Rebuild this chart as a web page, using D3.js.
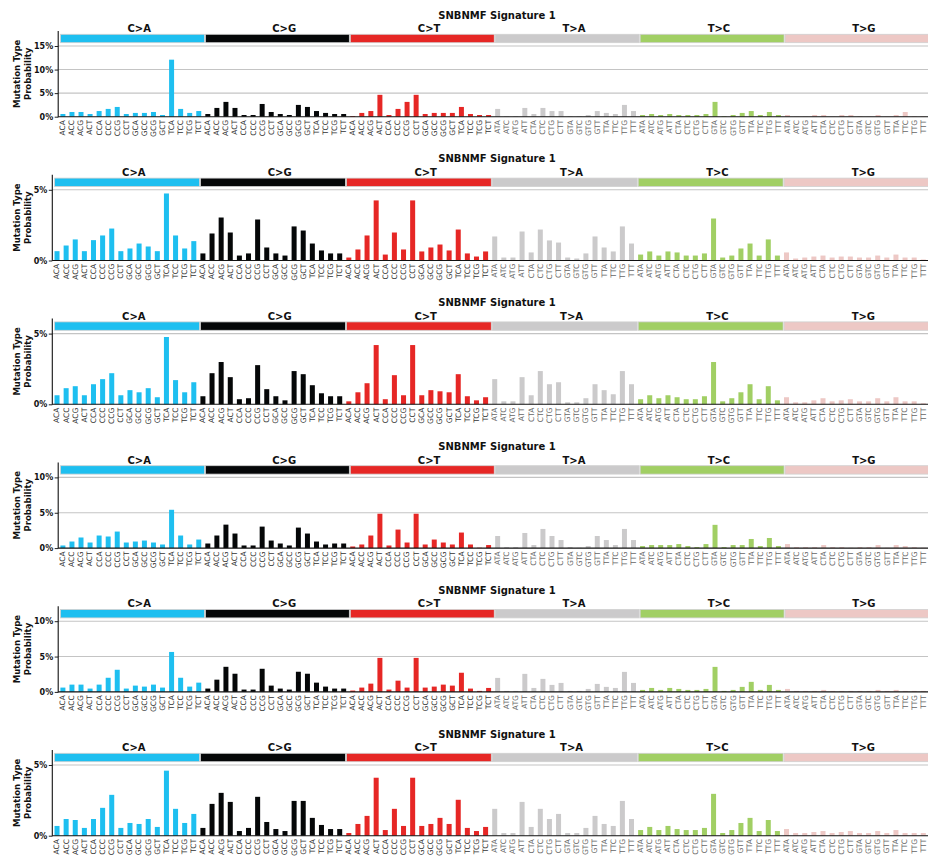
<!DOCTYPE html>
<html>
<head>
<meta charset="utf-8">
<script src="https://cdn.jsdelivr.net/npm/d3@7"></script>
<style>
  body { margin: 0; background: #fff; }
  svg { display: block; }
</style>
</head>
<body>
<script>
// SBS-96 mutation classes and trinucleotide contexts
const mutationTypes = ["C>A", "C>G", "C>T", "T>A", "T>C", "T>G"];
const typeColors = ["#1ebff0", "#050708", "#e62725", "#cbcacb", "#a1cf64", "#edc8c5"];
const cContexts = ["ACA","ACC","ACG","ACT","CCA","CCC","CCG","CCT","GCA","GCC","GCG","GCT","TCA","TCC","TCG","TCT"];
const tContexts = ["ATA","ATC","ATG","ATT","CTA","CTC","CTG","CTT","GTA","GTC","GTG","GTT","TTA","TTC","TTG","TTT"];
const chartTitle = "SNBNMF Signature 1";

// Probabilities (%) per panel, 96 values in class order C>A, C>G, C>T, T>A, T>C, T>G
const run1 = [
  0.57,1.0,1.0,0.57,1.2,1.65,2.07,0.57,0.8,0.8,1.0,0.36,12.1,1.65,0.8,1.2,
  0.57,1.86,3.14,1.86,0.36,0.36,2.7,1.0,0.57,0.36,2.5,2.07,1.2,0.8,0.57,0.57,
  0.14,0.8,1.2,4.64,0.36,1.65,3.14,4.64,0.57,0.8,0.8,0.8,2.07,0.57,0.36,0.36,
  1.65,0.1,0.1,1.86,0.57,1.86,1.2,1.2,0.1,0.1,0.36,1.2,0.8,0.57,2.5,1.2,
  0.36,0.57,0.36,0.57,0.36,0.36,0.36,0.57,3.14,0.1,0.36,0.8,1.2,0.36,1.0,0.36,
  0.36,0.05,0.05,0.36,0.36,0.05,0.36,0.36,0.1,0.05,0.36,0.05,0.36,1.0,0.1,0.1
];
const run2 = [
  0.66,1.06,1.49,0.66,1.44,1.77,2.26,0.66,0.85,1.2,0.99,0.66,4.74,1.77,0.85,1.37,
  0.5,1.91,3.04,1.98,0.35,0.5,2.9,0.92,0.5,0.35,2.41,2.12,1.2,0.71,0.5,0.5,
  0.21,0.78,1.77,4.25,0.42,1.98,0.78,4.25,0.64,0.92,1.13,0.71,2.19,0.5,0.28,0.64,
  1.7,0.21,0.21,2.05,0.57,2.19,1.42,1.27,0.21,0.14,0.5,1.7,0.92,0.64,2.41,1.2,
  0.42,0.64,0.35,0.64,0.57,0.35,0.35,0.5,2.97,0.21,0.35,0.85,1.2,0.35,1.49,0.35,
  0.57,0.14,0.21,0.28,0.35,0.21,0.28,0.28,0.21,0.21,0.35,0.21,0.42,0.21,0.21,0.07
];
const run3 = [
  0.64,1.14,1.28,0.64,1.42,1.78,2.2,0.64,1.0,0.85,1.14,0.5,4.76,1.71,0.85,1.56,
  0.57,2.2,2.99,1.92,0.36,0.43,2.77,1.07,0.57,0.28,2.35,2.13,1.35,0.78,0.57,0.57,
  0.21,0.85,1.49,4.19,0.36,2.06,0.64,4.19,0.64,1.0,0.92,0.85,2.13,0.57,0.28,0.5,
  1.78,0.21,0.21,1.92,0.64,2.35,1.42,1.56,0.14,0.14,0.43,1.42,1.0,0.71,2.35,1.42,
  0.36,0.64,0.43,0.64,0.5,0.36,0.36,0.57,2.99,0.21,0.43,0.85,1.42,0.36,1.28,0.28,
  0.5,0.14,0.14,0.28,0.43,0.21,0.28,0.36,0.21,0.21,0.43,0.21,0.5,0.21,0.21,0.07
];
const run4 = [
  0.37,0.93,1.5,0.79,1.78,1.64,2.34,0.79,0.93,1.07,0.79,0.51,5.42,1.78,0.51,1.21,
  0.65,1.78,3.32,2.06,0.37,0.37,3.04,1.07,0.65,0.37,2.9,2.06,0.93,0.51,0.65,0.65,
  0.23,0.51,1.78,4.86,0.37,2.62,0.79,4.86,0.51,1.21,0.79,0.51,2.2,0.51,0.05,0.43,
  1.71,0.14,0.14,2.14,0.43,2.71,1.71,1.14,0.14,0.05,0.29,1.71,1.14,0.43,2.71,1.14,
  0.29,0.43,0.43,0.43,0.57,0.29,0.14,0.57,3.29,0.14,0.43,0.43,1.29,0.29,1.43,0.29,
  0.57,0.14,0.14,0.14,0.43,0.14,0.14,0.05,0.14,0.14,0.43,0.05,0.43,0.29,0.14,0.05
];
const run5 = [
  0.61,1.03,1.03,0.47,1.03,2.0,3.13,0.47,0.89,0.75,1.03,0.61,5.65,2.0,0.75,1.31,
  0.47,1.73,3.55,2.57,0.33,0.33,3.27,0.89,0.47,0.33,2.85,2.57,1.31,0.75,0.47,0.47,
  0.19,0.61,1.17,4.81,0.33,1.59,0.61,4.81,0.61,0.75,1.03,0.89,2.71,0.47,0.14,0.56,
  1.98,0.14,0.14,2.55,0.56,1.84,0.99,1.27,0.14,0.14,0.42,1.13,0.71,0.56,2.83,1.27,
  0.28,0.56,0.28,0.56,0.42,0.28,0.28,0.42,3.54,0.14,0.28,0.71,1.42,0.28,0.99,0.28,
  0.42,0.14,0.14,0.14,0.28,0.14,0.14,0.14,0.14,0.14,0.28,0.14,0.28,0.14,0.14,0.14
];
const run6 = [
  0.69,1.18,1.11,0.55,1.18,1.97,2.89,0.55,0.9,0.83,1.18,0.62,4.6,1.9,0.9,1.54,
  0.55,2.25,3.03,2.39,0.33,0.55,2.75,0.97,0.47,0.33,2.46,2.46,1.26,0.76,0.47,0.47,
  0.19,0.83,1.4,4.1,0.4,1.9,0.69,4.1,0.69,0.83,1.26,0.83,2.54,0.55,0.33,0.62,
  1.9,0.19,0.19,2.39,0.62,1.9,1.18,1.54,0.19,0.19,0.55,1.4,0.83,0.69,2.46,1.18,
  0.4,0.62,0.4,0.69,0.47,0.4,0.4,0.55,2.96,0.19,0.4,0.9,1.26,0.33,1.11,0.33,
  0.47,0.19,0.19,0.26,0.33,0.19,0.26,0.33,0.19,0.19,0.33,0.19,0.4,0.19,0.19,0.19
];

// y-axis ticks (%) for each panel; the last tick is the top of the scale
const ticks1 = [0, 5, 10, 15];
const ticks2 = [0, 5];
const ticks3 = [0, 5];
const ticks4 = [0, 5, 10];
const ticks5 = [0, 5, 10];
const ticks6 = [0, 5];

const panels = [
  { values: run1, ticks: ticks1 },
  { values: run2, ticks: ticks2 },
  { values: run3, ticks: ticks3 },
  { values: run4, ticks: ticks4 },
  { values: run5, ticks: ticks5 },
  { values: run6, ticks: ticks6 }
];

// Full list of 96 channels
const channels = [];
mutationTypes.forEach((t, ti) => {
  const ctx = t[0] === "C" ? cContexts : tContexts;
  ctx.forEach(c => channels.push({ type: t, typeIndex: ti, context: c }));
});

const W = 928, H = 858;
const svg = d3.select("body").append("svg").attr("width", W).attr("height", H)
  .style("font-family", "'DejaVu Sans', sans-serif");

const panelStep = 143.8;
const firstBase = 116.7;
const tickSpan = 70.7;    // pixel height from 0 to the top tick
const axisTop = 85.7;     // spine height above the baseline
const xEnd = 929.5;
const titleX = 497;

panels.forEach((p, k) => {
  const base = firstBase + panelStep * k;
  const yMax = p.ticks[p.ticks.length - 1];
  const wide = yMax >= 10;
  const spineX = wide ? 58.2 : 52.3;
  const x0 = spineX + 1.8;

  const g = svg.append("g");

  const x = d3.scaleBand().domain(d3.range(96)).range([x0, xEnd]).paddingInner(0).paddingOuter(0);
  const bw = x.bandwidth();
  const y = d3.scaleLinear().domain([0, yMax]).range([base, base - tickSpan]);

  // gridlines
  g.append("g").selectAll("line").data(p.ticks.filter(t => t > 0)).join("line")
    .attr("x1", spineX).attr("x2", W)
    .attr("y1", d => y(d)).attr("y2", d => y(d))
    .attr("stroke", "#c4c4c4").attr("stroke-width", 1.1);

  // class header strip
  const strip = g.append("g");
  mutationTypes.forEach((t, ti) => {
    const sx = x(ti * 16);
    strip.append("rect")
      .attr("x", sx + 0.5).attr("y", base - 82.4)
      .attr("width", 16 * bw - 1).attr("height", 8.4)
      .attr("fill", typeColors[ti])
      .attr("stroke", "#d0d0d0").attr("stroke-width", 0.8);
    strip.append("text")
      .attr("x", sx + 8 * bw + 6.8).attr("y", base - 84.6)
      .attr("text-anchor", "middle")
      .attr("font-weight", "bold").attr("font-size", 10)
      .attr("fill", "#111")
      .text(t);
  });

  // bars
  g.append("g").selectAll("rect").data(p.values).join("rect")
    .attr("x", (d, i) => x(i) + bw * 0.045)
    .attr("width", bw * 0.55)
    .attr("y", d => y(d))
    .attr("height", d => base - y(d))
    .attr("fill", (d, i) => typeColors[channels[i].typeIndex]);

  // y axis
  const yAxis = d3.axisLeft(y).tickValues(p.ticks).tickSize(3.5).tickPadding(1.5)
    .tickFormat(d => d + "%");
  const ya = g.append("g").attr("transform", `translate(${spineX},0)`).call(yAxis);
  ya.select(".domain").remove();
  ya.selectAll("text").attr("font-weight", "bold").attr("font-size", 8)
    .attr("fill", "#111").style("font-family", "'DejaVu Sans', sans-serif");
  ya.selectAll("line").attr("stroke", "#222");
  g.append("line").attr("x1", spineX).attr("x2", spineX)
    .attr("y1", base - axisTop).attr("y2", base + 0.5)
    .attr("stroke", "#111").attr("stroke-width", 1.1);

  // x axis baseline
  g.append("line").attr("x1", spineX).attr("x2", W)
    .attr("y1", base).attr("y2", base)
    .attr("stroke", "#111").attr("stroke-width", 1.1);

  // channel labels
  g.append("g").selectAll("text").data(channels).join("text")
    .attr("transform", (d, i) => `translate(${x(i) + bw * 0.32 + 2.4},${base + 3.3}) rotate(-90)`)
    .attr("text-anchor", "end")
    .attr("font-size", 7.5)
    .attr("fill", d => d.typeIndex < 3 ? "#333" : "#666")
    .text(d => d.context);

  // title
  g.append("text").attr("x", titleX).attr("y", base - 98.2)
    .attr("text-anchor", "middle").attr("font-weight", "bold").attr("font-size", 10)
    .attr("fill", "#111").text(chartTitle);

  // y label
  const cy = base - axisTop / 2;
  g.append("text").attr("transform", `translate(19.8,${cy}) rotate(-90)`)
    .attr("text-anchor", "middle").attr("font-weight", "bold").attr("font-size", 8.5)
    .attr("fill", "#111").text("Mutation Type");
  g.append("text").attr("transform", `translate(31.2,${cy}) rotate(-90)`)
    .attr("text-anchor", "middle").attr("font-weight", "bold").attr("font-size", 8.5)
    .attr("fill", "#111").text("Probability");
});
</script>
</body>
</html>
